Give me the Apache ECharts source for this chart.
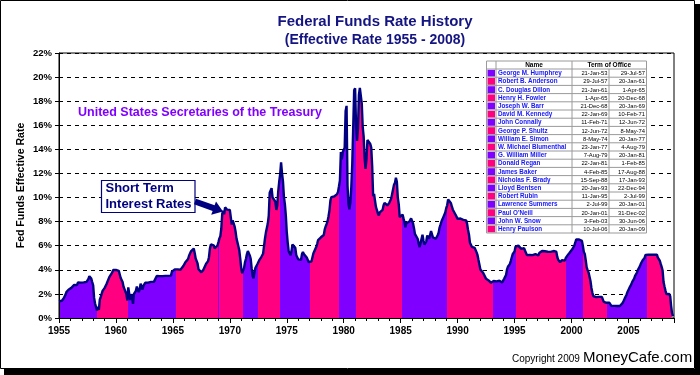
<!DOCTYPE html>
<html>
<head>
<meta charset="utf-8">
<title>Federal Funds Rate History</title>
<script src="https://cdn.jsdelivr.net/npm/echarts@6/dist/echarts.min.js"></script>
<style>
    html, body {margin: 0; padding: 0; background: #fff;}
    #main {width: 700px; height: 375px;}
</style>
</head>
<body>
<div id="main"></div>
<script>
    // monthly effective fed funds rate (%), Jan..Dec, one line per year
    var startYear = 1955;
    var fedFunds = [
        1.39, 1.29, 1.35, 1.43, 1.43, 1.64, 1.68, 1.96, 2.18, 2.24, 2.35, 2.48, // 1955
        2.45, 2.50, 2.50, 2.62, 2.75, 2.71, 2.75, 2.73, 2.95, 2.96, 2.88, 2.94,
        2.84, 3.00, 2.96, 3.00, 3.00, 3.00, 2.99, 3.24, 3.47, 3.50, 3.28, 2.98,
        2.72, 1.67, 1.20, 1.26, 0.63, 0.93, 0.68, 1.53, 1.76, 1.80, 2.27, 2.42,
        2.48, 2.43, 2.80, 2.96, 2.90, 3.39, 3.47, 3.50, 3.76, 3.98, 4.00, 3.99,
        3.99, 3.97, 3.84, 3.92, 3.85, 3.32, 3.23, 2.98, 2.60, 2.47, 2.44, 1.98, // 1960
        1.45, 2.54, 2.02, 1.49, 1.98, 1.73, 1.17, 2.00, 1.88, 2.26, 2.61, 2.33,
        2.15, 2.37, 2.85, 2.78, 2.36, 2.68, 2.71, 2.93, 2.90, 2.90, 2.94, 2.93,
        2.92, 3.00, 2.98, 2.90, 3.00, 2.99, 3.02, 3.49, 3.48, 3.50, 3.48, 3.38,
        3.48, 3.48, 3.43, 3.47, 3.50, 3.50, 3.42, 3.50, 3.45, 3.36, 3.52, 3.85,
        3.90, 3.98, 4.04, 4.09, 4.10, 4.04, 4.09, 4.12, 4.01, 4.08, 4.10, 4.32, // 1965
        4.42, 4.60, 4.65, 4.67, 4.90, 5.17, 5.30, 5.53, 5.40, 5.53, 5.76, 5.40,
        4.94, 5.00, 4.53, 4.05, 3.94, 3.98, 3.79, 3.90, 3.99, 3.88, 4.13, 4.51,
        4.60, 4.71, 5.05, 5.76, 6.11, 6.07, 6.02, 6.03, 5.78, 5.91, 5.82, 6.02,
        6.30, 6.61, 6.79, 7.41, 8.67, 8.90, 8.61, 9.19, 9.15, 9.00, 8.85, 8.97,
        8.98, 8.98, 7.76, 8.10, 7.95, 7.61, 7.21, 6.61, 6.29, 6.20, 5.60, 4.90, // 1970
        4.14, 3.72, 3.71, 4.16, 4.63, 4.91, 5.31, 5.56, 5.55, 5.20, 4.91, 4.14,
        3.50, 3.29, 3.83, 4.17, 4.27, 4.46, 4.55, 4.80, 4.87, 5.04, 5.06, 5.33,
        5.94, 6.58, 7.09, 7.12, 7.84, 8.49, 10.40, 10.50, 10.78, 10.01, 10.03, 9.95,
        9.65, 8.97, 9.35, 10.51, 11.31, 11.93, 12.92, 12.01, 11.34, 10.06, 9.45, 8.53,
        7.13, 6.24, 5.54, 5.49, 5.22, 5.55, 6.10, 6.14, 6.24, 5.82, 5.22, 5.20, // 1975
        4.87, 4.77, 4.84, 4.82, 5.29, 5.48, 5.31, 5.29, 5.25, 5.03, 4.95, 4.65,
        4.61, 4.68, 4.69, 4.73, 5.35, 5.39, 5.42, 5.90, 6.14, 6.47, 6.51, 6.56,
        6.70, 6.78, 6.79, 6.89, 7.36, 7.60, 7.81, 8.04, 8.45, 8.96, 9.76, 10.03,
        10.07, 10.06, 10.09, 10.01, 10.24, 10.29, 10.47, 10.94, 11.43, 13.77, 13.18, 13.78,
        13.82, 14.13, 17.19, 17.61, 10.98, 9.47, 9.03, 9.61, 10.87, 12.81, 15.85, 18.90, // 1980
        19.08, 15.93, 14.70, 15.72, 18.52, 19.10, 19.04, 17.82, 15.87, 15.08, 13.31, 12.37,
        13.22, 14.78, 14.68, 14.94, 14.45, 14.15, 12.59, 10.12, 10.31, 9.71, 9.20, 8.95,
        8.68, 8.51, 8.77, 8.80, 8.63, 8.98, 9.37, 9.56, 9.45, 9.48, 9.34, 9.47,
        9.56, 9.59, 9.91, 10.29, 10.32, 11.06, 11.23, 11.64, 11.30, 9.99, 9.43, 8.38,
        8.35, 8.50, 8.58, 8.27, 7.97, 7.53, 7.88, 7.90, 7.92, 7.99, 8.05, 8.27, // 1985
        8.14, 7.86, 7.48, 6.99, 6.85, 6.92, 6.56, 6.17, 5.89, 5.85, 6.04, 6.91,
        6.43, 6.10, 6.13, 6.37, 6.85, 6.73, 6.58, 6.73, 7.22, 7.29, 6.69, 6.77,
        6.83, 6.58, 6.58, 6.87, 7.09, 7.51, 7.75, 8.01, 8.19, 8.30, 8.35, 8.76,
        9.12, 9.36, 9.85, 9.84, 9.81, 9.53, 9.24, 8.99, 9.02, 8.84, 8.55, 8.45,
        8.23, 8.24, 8.28, 8.26, 8.18, 8.29, 8.15, 8.13, 8.20, 8.11, 7.81, 7.31, // 1990
        6.91, 6.25, 6.12, 5.91, 5.78, 5.90, 5.82, 5.66, 5.45, 5.21, 4.81, 4.43,
        4.03, 4.06, 3.98, 3.73, 3.82, 3.76, 3.25, 3.30, 3.22, 3.10, 3.09, 2.92,
        3.02, 3.03, 3.07, 2.96, 3.00, 3.04, 3.06, 3.03, 3.09, 2.99, 3.02, 2.96,
        3.05, 3.25, 3.34, 3.56, 4.01, 4.25, 4.26, 4.47, 4.73, 4.76, 5.29, 5.45,
        5.53, 5.92, 5.98, 6.05, 6.01, 6.00, 5.85, 5.74, 5.80, 5.76, 5.80, 5.60, // 1995
        5.56, 5.22, 5.31, 5.22, 5.24, 5.27, 5.40, 5.22, 5.30, 5.24, 5.31, 5.29,
        5.25, 5.19, 5.39, 5.51, 5.50, 5.56, 5.52, 5.54, 5.54, 5.50, 5.52, 5.50,
        5.56, 5.51, 5.49, 5.45, 5.49, 5.56, 5.54, 5.55, 5.51, 5.07, 4.83, 4.68,
        4.63, 4.76, 4.81, 4.74, 4.74, 4.76, 4.99, 5.07, 5.22, 5.20, 5.42, 5.30,
        5.45, 5.73, 5.85, 6.02, 6.27, 6.53, 6.54, 6.50, 6.52, 6.51, 6.51, 6.40, // 2000
        5.98, 5.49, 5.31, 4.80, 4.21, 3.97, 3.77, 3.65, 3.07, 2.49, 2.09, 1.82,
        1.73, 1.74, 1.73, 1.75, 1.75, 1.75, 1.73, 1.74, 1.75, 1.75, 1.34, 1.24,
        1.24, 1.26, 1.25, 1.26, 1.26, 1.22, 1.01, 1.03, 1.01, 1.01, 1.00, 0.98,
        1.00, 1.01, 1.00, 1.00, 1.00, 1.03, 1.26, 1.43, 1.61, 1.76, 1.93, 2.16,
        2.28, 2.50, 2.63, 2.79, 3.00, 3.04, 3.26, 3.50, 3.62, 3.78, 4.00, 4.16, // 2005
        4.29, 4.49, 4.59, 4.79, 4.94, 4.99, 5.24, 5.25, 5.25, 5.25, 5.25, 5.24,
        5.25, 5.26, 5.26, 5.25, 5.25, 5.25, 5.26, 5.02, 4.94, 4.76, 4.49, 4.24,
        3.94, 2.98, 2.61, 2.28, 1.98, 2.00, 2.01, 2.00, 1.81, 0.97, 0.39, 0.16
    ];

    var secretaries = ['George M. Humphrey', 'Robert B. Anderson', 'C. Douglas Dillon', 'Henry H. Fowler',
        'Joseph W. Barr', 'David M. Kennedy', 'John Connally', 'George P. Shultz', 'William E. Simon',
        'W. Michael Blumenthal', 'G. William Miller', 'Donald Regan', 'James Baker', 'Nicholas F. Brady',
        'Lloyd Bentsen', 'Robert Rubin', 'Lawrence Summers', "Paul O'Neill", 'John W. Snow', 'Henry Paulson'];
    var termStart = ['21-Jan-53', '29-Jul-57', '21-Jan-61', '1-Apr-65', '21-Dec-68', '22-Jan-69', '11-Feb-71',
        '12-Jun-72', '8-May-74', '23-Jan-77', '7-Aug-79', '22-Jan-81', '4-Feb-85', '15-Sep-88', '20-Jan-93',
        '11-Jan-95', '2-Jul-99', '20-Jan-01', '3-Feb-03', '10-Jul-06'];
    var termEnd = ['29-Jul-57', '20-Jan-61', '1-Apr-65', '20-Dec-68', '20-Jan-69', '10-Feb-71', '12-Jun-72',
        '8-May-74', '20-Jan-77', '4-Aug-79', '20-Jan-81', '1-Feb-85', '17-Aug-88', '17-Jan-93', '22-Dec-94',
        '2-Jul-99', '20-Jan-01', '31-Dec-02', '30-Jun-06', '20-Jan-09'];
    // where each secretary's colour band starts on the time axis (as drawn)
    var bandFrom = [1955, 1958.3, 1961.1, 1965.25, 1968.97, 1969.05, 1971.12, 1972.47, 1974.4, 1977.07,
        1979.6, 1981.07, 1985.08, 1989.05, 1993.15, 1995.15, 1999.5, 2001.05, 2003.08, 2006.6];
    var bandColors = ['#7f00ff', '#ff0080'];

    var navy = '#000080';
    var font = 'Arial, "Liberation Sans", sans-serif';

    var seriesData = [];
    for (var i = 0; i < fedFunds.length; i++) {
        seriesData.push([startYear + i / 12, fedFunds[i]]);
    }

    var pieces = [];
    for (var b = 0; b < bandFrom.length; b++) {
        pieces.push({
            gte: bandFrom[b],
            lt: b < bandFrom.length - 1 ? bandFrom[b + 1] : 2010,
            color: bandColors[b % 2]
        });
    }

    // legend table of secretaries
    var table = function () {
        var els = [];
        var x0 = 486.5, xName = 496, xStart = 572, xEnd = 609, x1 = 646.5;
        var y0 = 61, head = 8, row = 8.2;
        var yBottom = y0 + head + row * secretaries.length;
        var line = function (xa, ya, xb, yb) {
            els.push({type: 'line', z: 101, shape: {x1: xa, y1: ya, x2: xb, y2: yb},
                style: {stroke: '#9a9a9a', lineWidth: 1}});
        };
        els.push({type: 'rect', z: 100, shape: {x: 484, y: 59, width: 165, height: yBottom - 59 + 2},
            style: {fill: '#fff'}});
        els.push({type: 'text', z: 102, x: (xName + xStart) / 2, y: y0 + head / 2 + 0.5,
            style: {text: 'Name', fill: '#000', font: 'bold 6.5px ' + font, align: 'center', verticalAlign: 'middle'}});
        els.push({type: 'text', z: 102, x: (xStart + x1) / 2, y: y0 + head / 2 + 0.5,
            style: {text: 'Term of Office', fill: '#000', font: 'bold 6.5px ' + font, align: 'center', verticalAlign: 'middle'}});
        for (var r = 0; r < secretaries.length; r++) {
            var y = y0 + head + r * row;
            els.push({type: 'rect', z: 101, shape: {x: x0 + 1, y: y + 0.8, width: xName - x0 - 2, height: row - 1.4},
                style: {fill: bandColors[r % 2]}});
            els.push({type: 'text', z: 102, x: xName + 2, y: y + row / 2 + 0.4,
                style: {text: secretaries[r], fill: '#1414ff', font: 'bold 6.3px ' + font, verticalAlign: 'middle'}});
            els.push({type: 'text', z: 102, x: xEnd - 1.5, y: y + row / 2 + 0.4,
                style: {text: termStart[r], fill: '#000', font: '5.8px ' + font, align: 'right', verticalAlign: 'middle'}});
            els.push({type: 'text', z: 102, x: x1 - 1.5, y: y + row / 2 + 0.4,
                style: {text: termEnd[r], fill: '#000', font: '5.8px ' + font, align: 'right', verticalAlign: 'middle'}});
            line(x0, y, x1, y);
        }
        line(x0, y0, x1, y0);
        line(x0, yBottom, x1, yBottom);
        line(x0, y0, x0, yBottom);
        line(xName, y0, xName, yBottom);
        line(xStart, y0, xStart, yBottom);
        line(xEnd, y0 + head, xEnd, yBottom);
        line(x1, y0, x1, yBottom);
        return els;
    };

    var annotations = [
        // outer frame with shadow
        {type: 'rect', z: 0, shape: {x: 695, y: 4, width: 5, height: 371}, style: {fill: '#000'}},
        {type: 'rect', z: 0, shape: {x: 4, y: 369, width: 696, height: 6}, style: {fill: '#000'}},
        {type: 'rect', z: 0, shape: {x: 0.5, y: 0.5, width: 694, height: 368}, style: {fill: 'none', stroke: '#000', lineWidth: 1}},
        {type: 'text', z: 100, x: 375, y: 22,
            style: {text: 'Federal Funds Rate History', fill: '#141482', font: 'bold 15px ' + font, align: 'center', verticalAlign: 'middle'}},
        {type: 'text', z: 100, x: 375, y: 40,
            style: {text: '(Effective Rate 1955 - 2008)', fill: '#141482', font: 'bold 14px ' + font, align: 'center', verticalAlign: 'middle'}},
        {type: 'text', z: 100, x: 78, y: 113,
            style: {text: 'United States Secretaries of the Treasury', fill: '#8000ff', font: 'bold 12.5px ' + font, verticalAlign: 'middle'}},
        {type: 'rect', z: 100, shape: {x: 101.5, y: 180.5, width: 93.5, height: 32},
            style: {fill: '#fff', stroke: navy, lineWidth: 1.2}},
        {type: 'text', z: 101, x: 105.5, y: 188.5,
            style: {text: 'Short Term', fill: navy, font: 'bold 13px ' + font, verticalAlign: 'middle'}},
        {type: 'text', z: 101, x: 105.5, y: 204,
            style: {text: 'Interest Rates', fill: navy, font: 'bold 13px ' + font, verticalAlign: 'middle'}},
        {type: 'polygon', z: 100, shape: {points: [[196, 198.7], [214.6, 205.3], [216, 201.5], [223, 211.5], [211.2, 214.7], [212.6, 211], [194, 204.3]]},
            style: {fill: navy}},
        {type: 'text', z: 100, x: 512, y: 359.5,
            style: {text: 'Copyright 2009', fill: '#000', font: '10px ' + font, verticalAlign: 'middle'}},
        {type: 'text', z: 100, x: 583, y: 357.5,
            style: {text: 'MoneyCafe.com', fill: '#000', font: '15px ' + font, verticalAlign: 'middle'}}
    ].concat(table());

    var myChart = echarts.init(document.getElementById('main'), null, {renderer: 'canvas'});
    var option = {
        animation: false,
        backgroundColor: '#fff',
        grid: {
            left: 59, right: 26, top: 53, bottom: 57,
            show: true, borderColor: '#000', borderWidth: 1,
            outerBoundsMode: 'none'
        },
        xAxis: {
            type: 'value', min: 1955, max: 2009, interval: 5,
            axisLine: {show: true, onZero: false, lineStyle: {color: '#000', width: 1}},
            axisTick: {show: true, length: 5, lineStyle: {color: '#000'}},
            minorTick: {show: true, splitNumber: 5, length: 3, lineStyle: {color: '#000'}},
            splitLine: {show: false},
            axisLabel: {
                color: '#000', fontWeight: 'bold', fontSize: 10, fontFamily: font, margin: 8,
                formatter: function (v) { return v % 5 === 0 ? String(v) : ''; }
            }
        },
        yAxis: {
            type: 'value', min: 0, max: 22, interval: 2, z: 3,
            name: 'Fed Funds Effective Rate', nameLocation: 'middle', nameGap: 32, nameRotate: 90,
            nameMoveOverlap: false,
            nameTextStyle: {color: '#000', fontWeight: 'bold', fontSize: 10.5, fontFamily: font},
            axisLine: {show: true, lineStyle: {color: '#000', width: 1}},
            axisTick: {show: true, length: 4, lineStyle: {color: '#000'}},
            splitLine: {show: true, lineStyle: {color: '#000', type: [4, 4], width: 1}},
            axisLabel: {color: '#000', fontWeight: 'bold', fontSize: 9.5, fontFamily: font, margin: 7, formatter: '{value}%'}
        },
        visualMap: {
            type: 'piecewise', show: false, dimension: 0, seriesIndex: 0,
            pieces: pieces
        },
        series: [{
            name: 'Fed Funds',
            type: 'line',
            symbol: 'none',
            data: seriesData,
            lineStyle: {color: navy, width: 2.4},
            areaStyle: {opacity: 1}
        }],
        graphic: annotations
    };
    myChart.setOption(option);
</script>
</body>
</html>
